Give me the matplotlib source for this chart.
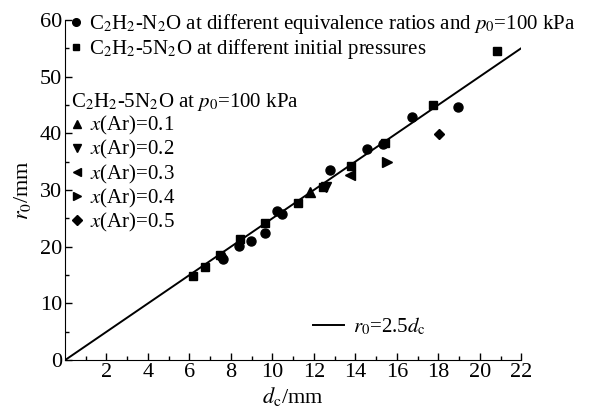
import numpy as np
import matplotlib
matplotlib.use("Agg")
import matplotlib.pyplot as plt
from matplotlib.lines import Line2D

plt.rcParams["font.family"] = ["Liberation Serif", "DejaVu Serif"]
plt.rcParams["mathtext.fontset"] = "stix"

# === DATA ===
# C2H2-N2O at different equivalence ratios, p0 = 100 kPa
eq_dc = [7.5, 7.6, 8.4, 8.95, 9.65, 10.2, 10.45, 12.8, 14.55, 15.35, 16.75, 18.95]
eq_r0 = [18.3, 17.8, 20.2, 21.0, 22.4, 26.3, 25.7, 33.6, 37.2, 38.1, 42.9, 44.7]

# C2H2-5N2O at different initial pressures
pr_dc = [6.15, 6.75, 7.45, 8.45, 9.65, 11.25, 12.45, 13.8, 15.45, 17.75, 20.85]
pr_r0 = [14.9, 16.5, 18.6, 21.4, 24.2, 27.7, 30.6, 34.2, 38.2, 45.0, 54.5]

# C2H2-5N2O at p0 = 100 kPa, diluted with Ar
ar_frac = ["0.1", "0.2", "0.3", "0.4", "0.5"]
ar_dc = [11.8, 12.6, 13.75, 15.55, 18.05]
ar_r0 = [29.6, 30.5, 32.7, 35.0, 39.8]
ar_marker = ["^", "v", "<", ">", "D"]

fit_k = 2.5

# === PLOT ===
fig = plt.figure(figsize=(5.91, 4.13), dpi=100)
ax = fig.add_axes([0.110, 0.128, 0.772, 0.824])

xx = np.array([0, 22])
ax.plot(xx, fit_k * xx, color="black", lw=1.4)

ms = 6.5
ax.plot(eq_dc, eq_r0, "o", color="black", ms=ms, ls="none")
ax.plot(pr_dc, pr_r0, "s", color="black", ms=ms - 0.8, ls="none")
for dc, r0, m in zip(ar_dc, ar_r0, ar_marker):
    ax.plot(dc, r0, m, color="black", ms=ms - (1.5 if m == "D" else 0), ls="none")

ax.set_xlim(0, 22)
ax.set_ylim(0, 60)
ax.set_xticks(range(2, 23, 2))
ax.set_xticks(range(1, 23, 2), minor=True)
ax.set_yticks(range(0, 61, 10))
ax.set_yticks(range(5, 60, 10), minor=True)
ax.tick_params(which="both", direction="in", labelsize=16, width=1)
ax.tick_params(which="major", length=5, pad=2)
ax.tick_params(which="minor", length=3)
ax.spines["top"].set_visible(False)
ax.spines["right"].set_visible(False)
ax.set_xlabel(r"$d_{\rm c}$/mm", fontsize=16, labelpad=2)
ax.set_ylabel(r"$r_0$/mm", fontsize=16, labelpad=5)

# legends
fs = 15
lkw = dict(frameon=False, fontsize=fs, handlelength=0.6, handletextpad=0.3,
           borderaxespad=0, borderpad=0, labelspacing=0.05)
h1 = [Line2D([], [], marker="o", color="black", ls="none", ms=5.5),
      Line2D([], [], marker="s", color="black", ls="none", ms=5)]
lab1 = [r"C$_2$H$_2$-N$_2$O at different equivalence ratios and $p_0$=100 kPa",
        r"C$_2$H$_2$-5N$_2$O at different initial pressures"]
leg1 = ax.legend(h1, lab1, loc="upper left", bbox_to_anchor=(0.011, 1.022), **lkw)
ax.add_artist(leg1)

h2 = [Line2D([], [], marker=m, color="black", ls="none", ms=5.5 if m != "D" else 5)
      for m in ar_marker]
lab2 = [r"$x$(Ar)=" + f for f in ar_frac]
leg2 = ax.legend(h2, lab2, loc="upper left", bbox_to_anchor=(0.013, 0.79),
                 title=r"C$_2$H$_2$-5N$_2$O at $p_0$=100 kPa",
                 title_fontsize=fs, alignment="left", **lkw)
ax.add_artist(leg2)

h3 = [Line2D([], [], color="black", lw=1.4)]
ax.legend(h3, [r"$r_0$=2.5$d_{\rm c}$"], loc="center left",
          bbox_to_anchor=(0.544, 0.10), frameon=False, fontsize=fs,
          handlelength=1.5, handletextpad=0.4, borderpad=0, borderaxespad=0)

fig.savefig("out.png", dpi=100)
